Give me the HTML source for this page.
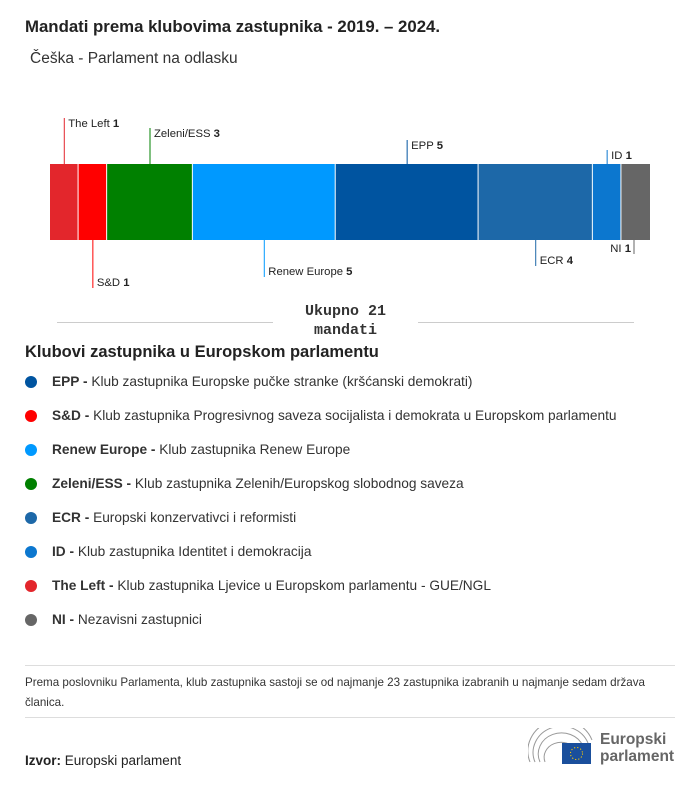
<!DOCTYPE html>
<html><head><meta charset="utf-8"><style>
body{margin:0;width:700px;height:786px;background:#fff;font-family:"Liberation Sans",sans-serif;color:#222;position:relative;overflow:hidden}
.a{position:absolute}
.leg{position:absolute;left:25px;font-size:13.7px;color:#333}
.leg .d{position:absolute;left:0;top:2px;width:12px;height:12px;border-radius:50%}
.leg span.t{position:absolute;left:27px;white-space:nowrap}
</style></head><body>
<div class="a" style="left:25px;top:17px;font-size:16.8px;font-weight:bold">Mandati prema klubovima zastupnika - 2019. – 2024.</div>
<div class="a" style="left:30px;top:50px;font-size:15.5px;color:#333">Češka - Parlament na odlasku</div>
<svg class="a" style="left:0;top:0" width="700" height="300" id="chart"></svg>
<div class="a" style="left:57px;top:322px;width:216px;height:1px;background:#ccc"></div>
<div class="a" style="left:418px;top:322px;width:216px;height:1px;background:#ccc"></div>
<div class="a" style="left:273px;top:302px;width:145px;text-align:center;font-family:'Liberation Mono',monospace;font-weight:bold;font-size:15px;line-height:19px;color:#333">Ukupno 21<br>mandati</div>
<div class="a" style="left:25px;top:343px;font-size:16.5px;font-weight:bold">Klubovi zastupnika u Europskom parlamentu</div>
<div id="legend"></div>
<div class="a" style="left:25px;top:665px;width:650px;height:1px;background:#ddd"></div>
<div class="a" style="left:25px;top:673px;width:630px;font-size:11.6px;line-height:20px;color:#333">Prema poslovniku Parlamenta, klub zastupnika sastoji se od najmanje 23 zastupnika izabranih u najmanje sedam država članica.</div>
<div class="a" style="left:25px;top:717px;width:650px;height:1px;background:#ddd"></div>
<div class="a" style="left:25px;top:753px;font-size:13.5px"><b>Izvor:</b> Europski parlament</div>
<div class="a" style="left:528px;top:728px;width:150px;height:40px">
<svg width="65" height="38" style="position:absolute;left:0;top:0"><g fill="none" stroke="#999" stroke-width="1"><path d="M2 34 A32 30 0 0 1 64 12"/><path d="M7 34 A27 25 0 0 1 60 15"/><path d="M12 34 A22 20 0 0 1 55 18"/><path d="M17 34 A17 15 0 0 1 48 22"/></g><rect x="34" y="15" width="29" height="21" fill="#1a4f9c"/><circle cx="48.5" cy="25.5" r="6" fill="none" stroke="#fc0" stroke-dasharray="1.2 2"/></svg>
<div style="position:absolute;left:72px;top:3px;font-size:15.5px;font-weight:bold;line-height:17px;color:#666">Europski<br>parlament</div></div>
<script>
const groups=["The Left","S&D","Zeleni/ESS","Renew Europe","EPP","ECR","ID","NI"];
const seats=[1,1,3,5,5,4,1,1];
const colors=["#e3262c","#ff0000","#008000","#0099ff","#0054a0","#1d68a8","#0c77cf","#666666"];
const above=[true,false,true,false,true,false,true,false];
const lineLen=[46,48,36,37,24,26,14,14];
const total=seats.reduce((a,b)=>a+b,0);
const x0=50,x1=650,yT=164,yB=240;
const sx=v=>x0+v/total*(x1-x0);
const svg=document.getElementById('chart');const NS="http://www.w3.org/2000/svg";
let cum=0;
groups.forEach((g,i)=>{
 const xa=sx(cum),xb=sx(cum+seats[i]);cum+=seats[i];
 const r=document.createElementNS(NS,'rect');
 r.setAttribute('x',xa);r.setAttribute('y',yT);r.setAttribute('width',xb-xa-(i<groups.length-1?1:0));r.setAttribute('height',yB-yT);r.setAttribute('fill',colors[i]);
 
 
 svg.appendChild(r);
 const last=i==groups.length-1;
 const lx=last?xb-16:(xa+xb)/2;
 const l=document.createElementNS(NS,'line');
 const ya=above[i]?yT:yB,ye=above[i]?yT-lineLen[i]:yB+lineLen[i];
 l.setAttribute('x1',lx);l.setAttribute('x2',lx);l.setAttribute('y1',ya);l.setAttribute('y2',ye);l.setAttribute('stroke',colors[i]);
 
 
 svg.appendChild(l);
 const t=document.createElementNS(NS,'text');
 t.setAttribute('font-size','11.3');t.setAttribute('font-family','Liberation Sans, sans-serif');t.setAttribute('fill','#222');
 t.setAttribute('x',last?lx-3:lx+4);t.setAttribute('text-anchor',last?'end':'start');
 t.setAttribute('y',above[i]?ye+9:ye-2);
 t.innerHTML=g.replace('&','&amp;')+' <tspan font-weight="bold">'+seats[i]+'</tspan>';
 
 
 svg.appendChild(t);
});
const legNames=["EPP","S&D","Renew Europe","Zeleni/ESS","ECR","ID","The Left","NI"];
const legDesc=["Klub zastupnika Europske pučke stranke (kršćanski demokrati)","Klub zastupnika Progresivnog saveza socijalista i demokrata u Europskom parlamentu","Klub zastupnika Renew Europe","Klub zastupnika Zelenih/Europskog slobodnog saveza","Europski konzervativci i reformisti","Klub zastupnika Identitet i demokracija","Klub zastupnika Ljevice u Europskom parlamentu - GUE/NGL","Nezavisni zastupnici"];
const legColors=["#0054a0","#ff0000","#0099ff","#008000","#1d68a8","#0c77cf","#e3262c","#666666"];
const L=document.getElementById('legend');
legNames.forEach((n,i)=>{
 const d=document.createElement('div');d.className='leg';d.style.top=(374+i*34)+'px';
 
 
 const e=document.createElement('div');e.className='d';e.style.background=legColors[i];d.appendChild(e);
 const s=document.createElement('span');s.className='t';s.innerHTML='<b>'+n.replace('&','&amp;')+' -</b> '+legDesc[i];d.appendChild(s);
 L.appendChild(d);
});
</script>
</body></html>
